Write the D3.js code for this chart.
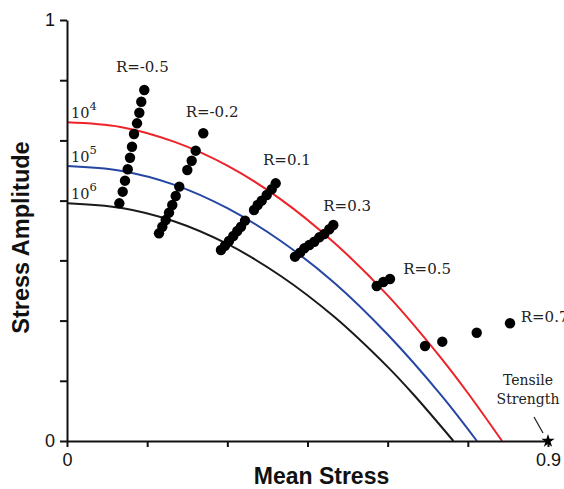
<!DOCTYPE html>
<html>
<head>
<meta charset="utf-8">
<script src="https://cdn.jsdelivr.net/npm/d3@7"></script>
<style>
  html, body { margin: 0; padding: 0; background: #fff; }
  svg { display: block; }
</style>
</head>
<body>
<svg id="chart" width="564" height="489"></svg>
<script>
// Axis ticks (labels only at the ends)
const xTickValues = [0, 0.15, 0.3, 0.45, 0.6, 0.75, 0.9];
const xTickLabels = ["0", "", "", "", "", "", "0.9"];
const yTickValues = [0, 0.143, 0.286, 0.429, 0.571, 0.714, 0.857, 1];
const yTickLabels = ["0", "", "", "", "", "", "", "1"];

// Constant-life curves: mean stress vs. stress amplitude
const lifeLabels = ["4", "5", "6"];
const lifeColors = ["#ee2229", "#2646a3", "#1a1a1a"];
const life4Mean = [0, 0.1, 0.2, 0.3, 0.4, 0.5, 0.6, 0.7, 0.75, 0.814];
const life4Amp  = [0.757, 0.746, 0.711, 0.654, 0.574, 0.471, 0.346, 0.197, 0.114, 0];
const life5Mean = [0, 0.1, 0.2, 0.3, 0.4, 0.5, 0.6, 0.7, 0.767];
const life5Amp  = [0.653, 0.642, 0.609, 0.553, 0.475, 0.376, 0.253, 0.109, 0];
const life6Mean = [0, 0.1, 0.2, 0.3, 0.4, 0.5, 0.6, 0.65, 0.723];
const life6Amp  = [0.565, 0.554, 0.522, 0.468, 0.392, 0.295, 0.176, 0.108, 0];

// Test points grouped by stress ratio R
const ratioLabels = ["R=-0.5", "R=-0.2", "R=0.1", "R=0.3", "R=0.5", "R=0.7"];
const rNeg05Mean = [0.1446, 0.1390, 0.1353, 0.1310, 0.1254, 0.1216, 0.1179, 0.1136, 0.1085, 0.1042, 0.0979];
const rNeg05Amp  = [0.8337, 0.8059, 0.7798, 0.7546, 0.7292, 0.6990, 0.6729, 0.6454, 0.6183, 0.5922, 0.5646];
const rNeg02Mean = [0.2550, 0.2408, 0.2333, 0.2251, 0.2101, 0.2034, 0.1970, 0.1909, 0.1847, 0.1784, 0.1721];
const rNeg02Amp  = [0.7309, 0.6896, 0.6658, 0.6437, 0.6041, 0.5819, 0.5606, 0.5423, 0.5249, 0.5090, 0.4933];
const r01Mean = [0.3905, 0.3830, 0.3737, 0.3643, 0.3568, 0.3499, 0.3331, 0.3256, 0.3186, 0.3112, 0.3031, 0.2956, 0.2881];
const r01Amp  = [0.6121, 0.5979, 0.5843, 0.5708, 0.5606, 0.5487, 0.5233, 0.5090, 0.4988, 0.4869, 0.4751, 0.4639, 0.4537];
const r03Mean = [0.4983, 0.4908, 0.4814, 0.4721, 0.4627, 0.4534, 0.4440, 0.4360, 0.4266];
const r03Amp  = [0.5131, 0.5029, 0.4917, 0.4838, 0.4734, 0.4656, 0.4577, 0.4473, 0.4378];
const r05Mean = [0.6043, 0.5918, 0.5795];
const r05Amp  = [0.3848, 0.3777, 0.3682];
const r07Mean = [0.6699, 0.7022, 0.7666, 0.8289];
const r07Amp  = [0.2257, 0.2359, 0.2572, 0.2796];

// Label anchor for each ratio group (mean, amplitude)
const ratioLabelMean = [0.0915, 0.2221, 0.3668, 0.4795, 0.6293, 0.8490];
const ratioLabelAmp  = [0.8765, 0.7703, 0.6556, 0.5470, 0.3966, 0.2819];

const tensileStrength = 0.9;

const svg = d3.select("#chart");
const x = d3.scaleLinear().domain([0, 0.9]).range([67, 548]);
const y = d3.scaleLinear().domain([0, 1]).range([441, 20]);

const serif = "'DejaVu Serif', serif";
const sans = "'Liberation Sans', Arial, sans-serif";

// Curves
const curves = [
  { mean: life4Mean, amp: life4Amp },
  { mean: life5Mean, amp: life5Amp },
  { mean: life6Mean, amp: life6Amp }
];
const line = d3.line()
  .x(d => x(d[0]))
  .y(d => y(d[1]))
  .curve(d3.curveCatmullRom.alpha(0.5));

curves.forEach((c, i) => {
  const pts = c.mean.map((m, j) => [m, c.amp[j]]);
  svg.append("path")
    .attr("d", line(pts))
    .attr("fill", "none")
    .attr("stroke", lifeColors[i])
    .attr("stroke-width", 2);
  const t = svg.append("text")
    .attr("x", x(0) + 4)
    .attr("y", y(c.amp[0]) - 4)
    .attr("font-family", serif)
    .attr("font-size", 14.5)
    .attr("fill", "#222");
  t.append("tspan").text("10");
  t.append("tspan").attr("dy", -8).attr("font-size", 11.5).text(lifeLabels[i]);
});

// Axes
const xAxis = d3.axisBottom(x)
  .tickValues(xTickValues)
  .tickFormat((d, i) => xTickLabels[i])
  .tickSize(6).tickSizeOuter(0).tickPadding(6);
const yAxis = d3.axisLeft(y)
  .tickValues(yTickValues)
  .tickFormat((d, i) => yTickLabels[i])
  .tickSize(7).tickSizeOuter(0).tickPadding(5);

const gx = svg.append("g").attr("transform", `translate(0,${y(0)})`).call(xAxis);
const gy = svg.append("g").attr("transform", `translate(${x(0)},0)`).call(yAxis);
[gx, gy].forEach(g => {
  g.select(".domain").attr("stroke", "#111").attr("stroke-width", 2);
  g.selectAll(".tick line").attr("stroke", "#111").attr("stroke-width", 2);
  g.selectAll(".tick text")
    .attr("font-family", sans)
    .attr("font-size", 18)
    .attr("fill", "#111");
});

// Data points
const groups = [
  { mean: rNeg05Mean, amp: rNeg05Amp },
  { mean: rNeg02Mean, amp: rNeg02Amp },
  { mean: r01Mean, amp: r01Amp },
  { mean: r03Mean, amp: r03Amp },
  { mean: r05Mean, amp: r05Amp },
  { mean: r07Mean, amp: r07Amp }
];
groups.forEach((g, i) => {
  const pts = g.mean.map((m, j) => [m, g.amp[j]]);
  svg.append("g").selectAll("circle")
    .data(pts).join("circle")
    .attr("cx", d => x(d[0]))
    .attr("cy", d => y(d[1]))
    .attr("r", 5.2)
    .attr("fill", "#000");
  svg.append("text")
    .attr("x", x(ratioLabelMean[i]))
    .attr("y", y(ratioLabelAmp[i]))
    .attr("font-family", serif)
    .attr("font-size", 15)
    .attr("fill", "#222")
    .text(ratioLabels[i]);
});

// Tensile strength marker
svg.append("path")
  .attr("d", d3.symbol(d3.symbolStar, 55)())
  .attr("transform", `translate(${x(tensileStrength)},${y(0)})`)
  .attr("fill", "#000");
svg.append("line")
  .attr("x1", x(tensileStrength) - 14).attr("y1", y(0) - 24)
  .attr("x2", x(tensileStrength) - 5).attr("y2", y(0) - 8)
  .attr("stroke", "#222").attr("stroke-width", 1.3);
const ts = svg.append("text")
  .attr("font-family", serif)
  .attr("font-size", 14)
  .attr("fill", "#222")
  .attr("text-anchor", "middle");
ts.append("tspan").attr("x", 528).attr("y", 385).text("Tensile");
ts.append("tspan").attr("x", 528).attr("y", 404).text("Strength");

// Axis titles
svg.append("text")
  .attr("x", 321.5).attr("y", 484)
  .attr("text-anchor", "middle")
  .attr("font-family", sans)
  .attr("font-weight", "bold")
  .attr("font-size", 23)
  .attr("fill", "#111")
  .text("Mean Stress");
svg.append("text")
  .attr("transform", "translate(28.5,237.5) rotate(-90)")
  .attr("text-anchor", "middle")
  .attr("font-family", sans)
  .attr("font-weight", "bold")
  .attr("font-size", 23.5)
  .attr("fill", "#111")
  .text("Stress Amplitude");
</script>
</body>
</html>
